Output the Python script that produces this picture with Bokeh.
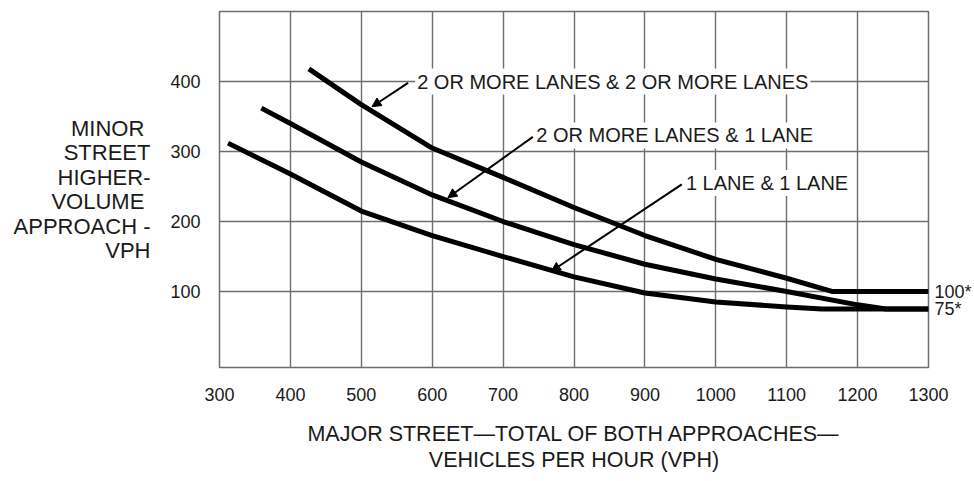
from bokeh.plotting import figure
from bokeh.models import Range1d, Label, Arrow, NormalHead, FixedTicker, LinearAxis
from bokeh.embed import file_html
from bokeh.resources import INLINE

# Data
major_2p2p = [426, 500, 600, 700, 800, 900, 1000, 1100, 1165, 1300]
minor_2p2p = [418, 367, 305, 263, 220, 180, 146, 119, 100, 100]

major_2p1 = [359, 400, 500, 600, 700, 800, 900, 1000, 1100, 1200, 1240, 1300]
minor_2p1 = [362, 340, 285, 238, 200, 167, 139, 118, 100, 81, 75, 75]

major_11 = [312, 400, 500, 600, 700, 800, 900, 1000, 1100, 1150, 1300]
minor_11 = [312, 268, 215, 180, 150, 121, 98, 85, 78, 75, 75]

x_ticks = [300, 400, 500, 600, 700, 800, 900, 1000, 1100, 1200, 1300]
y_ticks = [100, 200, 300, 400]
end_ticks = [75, 100]
end_labels = {75: "75*", 100: "100*"}

curve_labels = ["2 OR MORE LANES & 2 OR MORE LANES", "2 OR MORE LANES & 1 LANE", "1 LANE & 1 LANE"]
label_pos = [(576, 400), (744, 323), (955, 255)]
arrow_from = [(566, 398), (742, 321), (952, 253)]
arrow_to = [(515, 364), (622, 234), (768, 129)]

FONT = "Liberation Sans"
TXT = "#1a1a1a"

p = figure(width=974, height=481, output_backend="svg", toolbar_location=None,
           x_range=Range1d(300, 1300), y_range=Range1d(-8.5, 500),
           min_border_left=219, min_border_right=44, min_border_top=11, min_border_bottom=114)
p.background_fill_color = "white"
p.border_fill_color = "white"
p.outline_line_color = "#6e6e6e"
p.outline_line_width = 1.5

right_axis = LinearAxis(ticker=FixedTicker(ticks=end_ticks), major_label_overrides=end_labels)
p.add_layout(right_axis, "right")

p.xaxis.ticker = FixedTicker(ticks=x_ticks)
p.yaxis[0].ticker = FixedTicker(ticks=y_ticks)
for ax in (p.xaxis[0], p.yaxis[0], right_axis):
    ax.axis_line_color = None
    ax.major_tick_line_color = None
    ax.minor_tick_line_color = None
    ax.major_tick_out = 0
    ax.major_tick_in = 0
    ax.minor_tick_out = 0
    ax.minor_tick_in = 0
    ax.major_label_text_font = FONT
    ax.major_label_text_font_size = "18px"
    ax.major_label_text_color = TXT
p.yaxis[0].major_label_standoff = 19
p.xaxis.major_label_standoff = 20
right_axis.major_label_standoff = 6

yax = p.yaxis[0]
yax.axis_label = "MINOR \nSTREET\nHIGHER-\nVOLUME \nAPPROACH -\nVPH"
yax.axis_label_orientation = "horizontal"
yax.axis_label_text_align = "right"
yax.axis_label_text_font = FONT
yax.axis_label_text_font_size = "22px"
yax.axis_label_text_font_style = "normal"
yax.axis_label_text_color = TXT
yax.axis_label_text_line_height = 0.98
yax.axis_label_standoff = 17

p.xaxis.axis_label = "MAJOR STREET\u2014TOTAL OF BOTH APPROACHES\u2014\nVEHICLES PER HOUR (VPH)"
p.xaxis.axis_label_text_font = FONT
p.xaxis.axis_label_text_font_size = "21.5px"
p.xaxis.axis_label_text_font_style = "normal"
p.xaxis.axis_label_text_color = TXT
p.xaxis.axis_label_standoff = 18
p.xaxis.axis_label_text_line_height = 1.1

p.xgrid.ticker = FixedTicker(ticks=x_ticks)
p.ygrid.ticker = FixedTicker(ticks=y_ticks + [500])
for g in (p.xgrid[0], p.ygrid[0]):
    g.grid_line_color = "#6e6e6e"
    g.grid_line_width = 1.4
    g.grid_line_alpha = 1.0

for xs, ys in ((major_2p2p, minor_2p2p), (major_2p1, minor_2p1), (major_11, minor_11)):
    p.line(xs, ys, line_color="black", line_width=5, line_join="round", line_cap="butt")

for (x0, y0), (x1, y1) in zip(arrow_from, arrow_to):
    p.add_layout(Arrow(end=NormalHead(size=9, fill_color="black", line_color="black"),
                       x_start=x0, y_start=y0, x_end=x1, y_end=y1,
                       line_color="black", line_width=2))

for txt, (lx, ly) in zip(curve_labels, label_pos):
    p.add_layout(Label(x=lx, y=ly, text=txt, text_font=FONT, text_font_size="20px",
                       text_color=TXT, text_baseline="middle", text_align="left",
                       background_fill_color="white", padding=2))

open("out.html", "w").write(file_html(p, INLINE))
